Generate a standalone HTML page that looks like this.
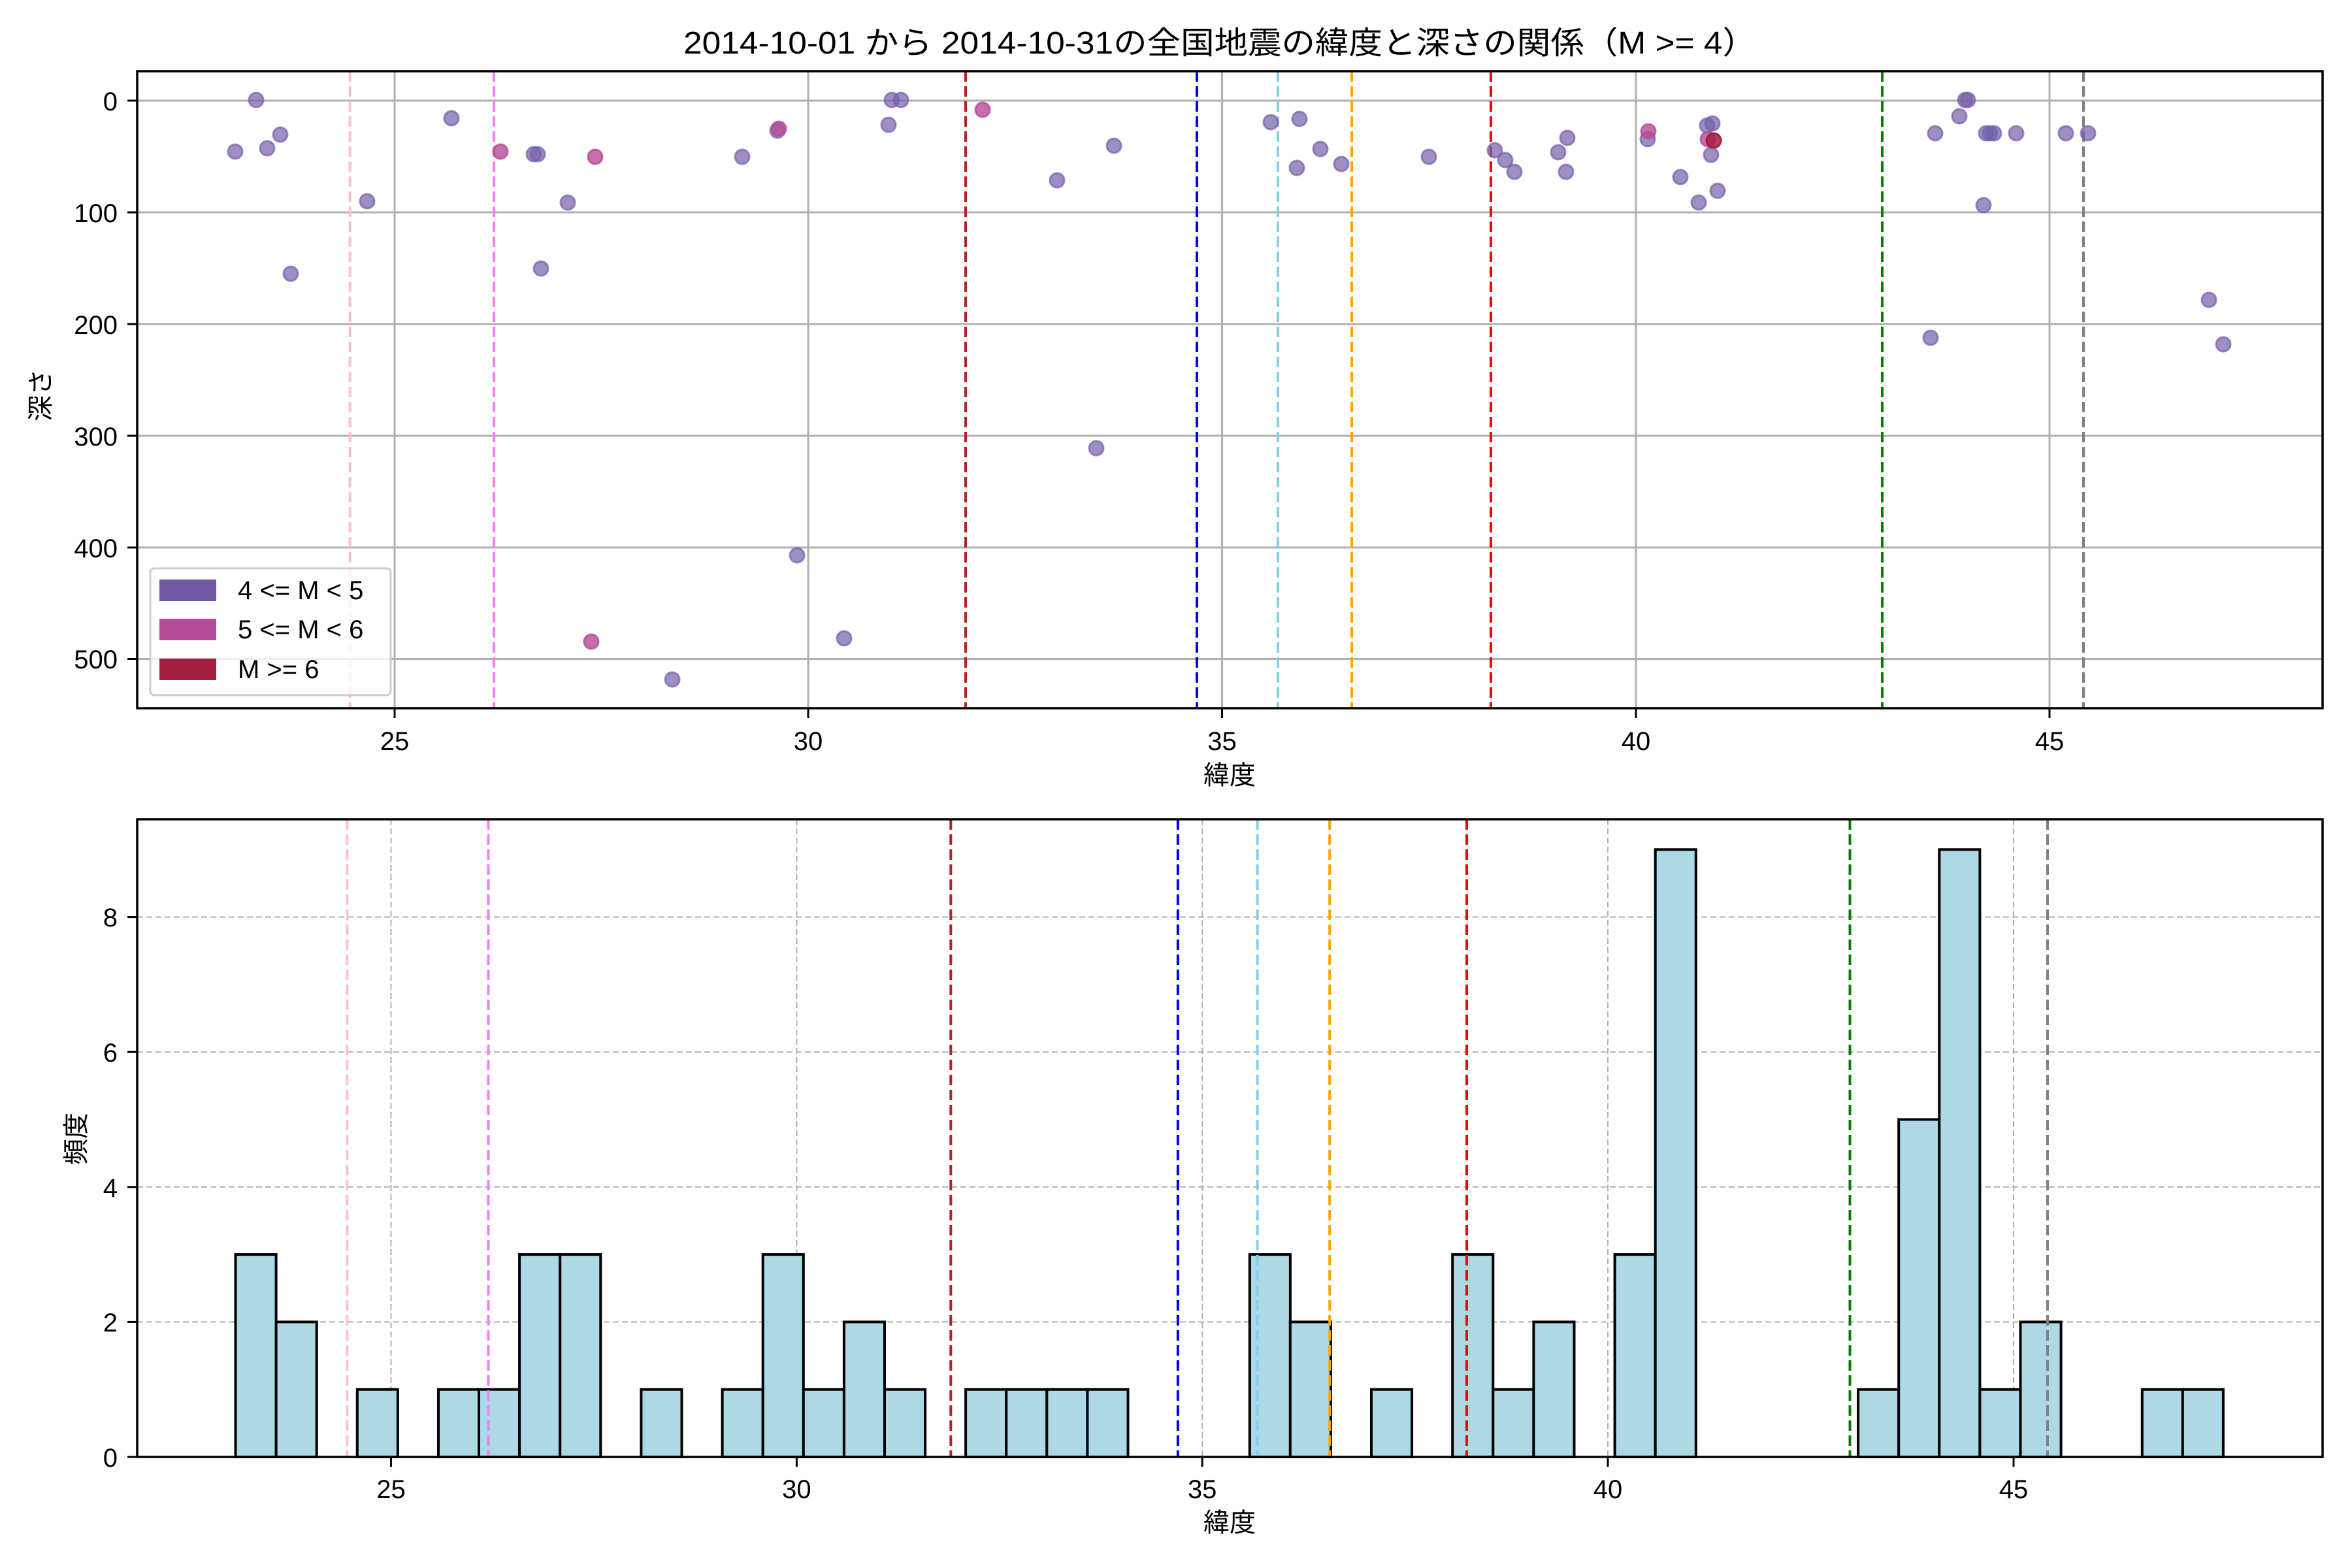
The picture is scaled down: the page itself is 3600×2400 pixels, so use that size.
<!DOCTYPE html>
<html><head><meta charset="utf-8"><style>
html,body{margin:0;padding:0;background:#fff;}
svg{display:block;}
text{font-family:"Liberation Sans","Noto Sans CJK JP",sans-serif;fill:#000;}
</style></head><body>
<svg width="3600" height="2400" viewBox="0 0 3600 2400" xmlns="http://www.w3.org/2000/svg">
<rect width="3600" height="2400" fill="#fff"/>
<text x="1867" y="82" font-size="48" text-anchor="middle" textLength="1642" lengthAdjust="spacingAndGlyphs">2014-10-01 から 2014-10-31の全国地震の緯度と深さの関係（M &gt;= 4）</text>

<!-- ===== TOP AXES ===== -->
<g stroke="#b0b0b0" stroke-width="3">
<line x1="604" y1="109" x2="604" y2="1084"/><line x1="1237" y1="109" x2="1237" y2="1084"/><line x1="1870.5" y1="109" x2="1870.5" y2="1084"/><line x1="2504" y1="109" x2="2504" y2="1084"/><line x1="3137" y1="109" x2="3137" y2="1084"/>
<line x1="210" y1="154" x2="3555" y2="154"/><line x1="210" y1="325" x2="3555" y2="325"/><line x1="210" y1="496" x2="3555" y2="496"/><line x1="210" y1="667" x2="3555" y2="667"/><line x1="210" y1="838" x2="3555" y2="838"/><line x1="210" y1="1008.5" x2="3555" y2="1008.5"/>
</g>
<g stroke-width="4" stroke-dasharray="16 7">
<line x1="535.6" y1="109" x2="535.6" y2="1084" stroke="#ffc0cb"/>
<line x1="756" y1="109" x2="756" y2="1084" stroke="#ee82ee"/>
<line x1="1478" y1="109" x2="1478" y2="1084" stroke="#b22222"/>
<line x1="1832" y1="109" x2="1832" y2="1084" stroke="#0000ff"/>
<line x1="1956" y1="109" x2="1956" y2="1084" stroke="#87ceeb"/>
<line x1="2069" y1="109" x2="2069" y2="1084" stroke="#ffa500"/>
<line x1="2282" y1="109" x2="2282" y2="1084" stroke="#ff0000"/>
<line x1="2881" y1="109" x2="2881" y2="1084" stroke="#008000"/>
<line x1="3189" y1="109" x2="3189" y2="1084" stroke="#808080"/>
</g>
<g fill="#7560aa" fill-opacity="0.7" stroke="#7560aa" stroke-opacity="0.7" stroke-width="3">
<circle cx="360" cy="232" r="11"/><circle cx="392" cy="153" r="11"/><circle cx="409" cy="227" r="11"/><circle cx="429" cy="206" r="11"/><circle cx="445" cy="419" r="11"/><circle cx="562" cy="308" r="11"/><circle cx="691" cy="181" r="11"/><circle cx="817" cy="236" r="11"/><circle cx="823" cy="236" r="11"/><circle cx="869" cy="310" r="11"/><circle cx="828" cy="411" r="11"/><circle cx="1029" cy="1040" r="11"/><circle cx="1136" cy="240" r="11"/><circle cx="1190" cy="200" r="11"/>
<circle cx="1365" cy="153" r="11"/><circle cx="1379" cy="153" r="11"/><circle cx="1360" cy="191" r="11"/><circle cx="1705" cy="223" r="11"/><circle cx="1618" cy="276" r="11"/><circle cx="1678" cy="686" r="11"/><circle cx="1220" cy="850" r="11"/><circle cx="1292" cy="977" r="11"/>
<circle cx="1945" cy="187" r="11"/><circle cx="1989" cy="182" r="11"/><circle cx="2021" cy="228" r="11"/><circle cx="1985" cy="257" r="11"/><circle cx="2053" cy="251" r="11"/><circle cx="2187" cy="240" r="11"/><circle cx="2288" cy="230" r="11"/><circle cx="2304" cy="245" r="11"/><circle cx="2318" cy="263" r="11"/><circle cx="2399" cy="211" r="11"/><circle cx="2385" cy="233" r="11"/><circle cx="2397" cy="263" r="11"/>
<circle cx="2522" cy="213" r="11"/><circle cx="2613" cy="192" r="11"/><circle cx="2621" cy="189" r="11"/><circle cx="2619" cy="237" r="11"/><circle cx="2572" cy="271" r="11"/><circle cx="2629" cy="292" r="11"/><circle cx="2600" cy="310" r="11"/>
<circle cx="3008" cy="153" r="11"/><circle cx="3012" cy="153" r="11"/><circle cx="2999" cy="178" r="11"/><circle cx="2962" cy="204" r="11"/><circle cx="3040" cy="204" r="11"/><circle cx="3046" cy="204" r="11"/><circle cx="3052" cy="204" r="11"/><circle cx="3086" cy="204" r="11"/><circle cx="3162" cy="204" r="11"/><circle cx="3196" cy="204" r="11"/><circle cx="3036" cy="314" r="11"/><circle cx="2955" cy="517" r="11"/><circle cx="3381" cy="459" r="11"/><circle cx="3403" cy="527" r="11"/>
</g>
<g fill="#b54b96" fill-opacity="0.8" stroke="#b54b96" stroke-opacity="0.8" stroke-width="3">
<circle cx="766" cy="232" r="11"/><circle cx="911" cy="240" r="11"/><circle cx="905" cy="982" r="11"/><circle cx="1192" cy="197" r="11"/><circle cx="1504" cy="168" r="11"/><circle cx="2523" cy="201" r="11"/><circle cx="2614" cy="213" r="11"/>
</g>
<circle cx="2623" cy="215" r="11" fill="#a31f42" fill-opacity="0.85" stroke="#a31f42" stroke-width="3"/>
<rect x="210" y="109" width="3345" height="975" fill="none" stroke="#000" stroke-width="3.5"/>
<g stroke="#000" stroke-width="3">
<line x1="604" y1="1084" x2="604" y2="1099"/><line x1="1237" y1="1084" x2="1237" y2="1099"/><line x1="1870.5" y1="1084" x2="1870.5" y2="1099"/><line x1="2504" y1="1084" x2="2504" y2="1099"/><line x1="3137" y1="1084" x2="3137" y2="1099"/>
<line x1="195" y1="154" x2="210" y2="154"/><line x1="195" y1="325" x2="210" y2="325"/><line x1="195" y1="496" x2="210" y2="496"/><line x1="195" y1="667" x2="210" y2="667"/><line x1="195" y1="838" x2="210" y2="838"/><line x1="195" y1="1008.5" x2="210" y2="1008.5"/>
</g>
<g font-size="40" text-anchor="middle">
<text x="604" y="1148">25</text><text x="1237" y="1148">30</text><text x="1870.5" y="1148">35</text><text x="2504" y="1148">40</text><text x="3137" y="1148">45</text>
</g>
<g font-size="40" text-anchor="end">
<text x="180" y="169">0</text><text x="180" y="340">100</text><text x="180" y="511">200</text><text x="180" y="682">300</text><text x="180" y="853">400</text><text x="180" y="1023">500</text>
</g>
<text x="1882" y="1200" font-size="40" text-anchor="middle">緯度</text>
<text transform="translate(76,605) rotate(-90)" font-size="40" text-anchor="middle">深さ</text>
<!-- legend -->
<rect x="230" y="870" width="368" height="194" rx="6" fill="#fff" fill-opacity="0.8" stroke="#cccccc" stroke-width="3"/>
<rect x="244" y="887" width="87" height="33" fill="#6f58a3"/>
<rect x="244" y="947" width="87" height="33" fill="#b54b96"/>
<rect x="244" y="1008" width="87" height="33" fill="#a31f42"/>
<g font-size="40"><text x="364" y="917">4 &lt;= M &lt; 5</text><text x="364" y="977">5 &lt;= M &lt; 6</text><text x="364" y="1038">M &gt;= 6</text></g>

<!-- ===== BOTTOM AXES ===== -->
<g stroke="#b0b0b0" stroke-width="2" stroke-dasharray="9 5">
<line x1="598.5" y1="1254" x2="598.5" y2="2230"/><line x1="1219.4" y1="1254" x2="1219.4" y2="2230"/><line x1="1840.2" y1="1254" x2="1840.2" y2="2230"/><line x1="2461" y1="1254" x2="2461" y2="2230"/><line x1="3082" y1="1254" x2="3082" y2="2230"/>
<line x1="210" y1="2023.4" x2="3555" y2="2023.4"/><line x1="210" y1="1816.8" x2="3555" y2="1816.8"/><line x1="210" y1="1610.2" x2="3555" y2="1610.2"/><line x1="210" y1="1403.6" x2="3555" y2="1403.6"/>
</g>
<g fill="#add8e6" stroke="#000" stroke-width="4">
<rect x="360.5" y="1920.1" width="62.1" height="309.9"/>
<rect x="422.6" y="2023.4" width="62.1" height="206.6"/>
<rect x="546.8" y="2126.7" width="62.1" height="103.3"/>
<rect x="671.0" y="2126.7" width="62.1" height="103.3"/>
<rect x="733.0" y="2126.7" width="62.1" height="103.3"/>
<rect x="795.1" y="1920.1" width="62.1" height="309.9"/>
<rect x="857.2" y="1920.1" width="62.1" height="309.9"/>
<rect x="981.4" y="2126.7" width="62.1" height="103.3"/>
<rect x="1105.6" y="2126.7" width="62.1" height="103.3"/>
<rect x="1167.7" y="1920.1" width="62.1" height="309.9"/>
<rect x="1229.8" y="2126.7" width="62.1" height="103.3"/>
<rect x="1291.9" y="2023.4" width="62.1" height="206.6"/>
<rect x="1354.0" y="2126.7" width="62.1" height="103.3"/>
<rect x="1478.1" y="2126.7" width="62.1" height="103.3"/>
<rect x="1540.2" y="2126.7" width="62.1" height="103.3"/>
<rect x="1602.3" y="2126.7" width="62.1" height="103.3"/>
<rect x="1664.4" y="2126.7" width="62.1" height="103.3"/>
<rect x="1912.8" y="1920.1" width="62.1" height="309.9"/>
<rect x="1974.8" y="2023.4" width="62.1" height="206.6"/>
<rect x="2099.0" y="2126.7" width="62.1" height="103.3"/>
<rect x="2223.2" y="1920.1" width="62.1" height="309.9"/>
<rect x="2285.3" y="2126.7" width="62.1" height="103.3"/>
<rect x="2347.4" y="2023.4" width="62.1" height="206.6"/>
<rect x="2471.6" y="1920.1" width="62.1" height="309.9"/>
<rect x="2533.7" y="1300.3" width="62.1" height="929.7"/>
<rect x="2844.1" y="2126.7" width="62.1" height="103.3"/>
<rect x="2906.2" y="1713.5" width="62.1" height="516.5"/>
<rect x="2968.3" y="1300.3" width="62.1" height="929.7"/>
<rect x="3030.4" y="2126.7" width="62.1" height="103.3"/>
<rect x="3092.5" y="2023.4" width="62.1" height="206.6"/>
<rect x="3278.8" y="2126.7" width="62.1" height="103.3"/>
<rect x="3340.8" y="2126.7" width="62.1" height="103.3"/>
</g>
<g stroke-width="4" stroke-dasharray="16 7">
<line x1="531.4" y1="1254" x2="531.4" y2="2230" stroke="#ffc0cb"/>
<line x1="747.5" y1="1254" x2="747.5" y2="2230" stroke="#ee82ee"/>
<line x1="1455.3" y1="1254" x2="1455.3" y2="2230" stroke="#b22222"/>
<line x1="1802.9" y1="1254" x2="1802.9" y2="2230" stroke="#0000ff"/>
<line x1="1924.6" y1="1254" x2="1924.6" y2="2230" stroke="#87ceeb"/>
<line x1="2035.2" y1="1254" x2="2035.2" y2="2230" stroke="#ffa500"/>
<line x1="2245" y1="1254" x2="2245" y2="2230" stroke="#ff0000"/>
<line x1="2831.5" y1="1254" x2="2831.5" y2="2230" stroke="#008000"/>
<line x1="3134" y1="1254" x2="3134" y2="2230" stroke="#808080"/>
</g>
<rect x="210" y="1254" width="3345" height="976" fill="none" stroke="#000" stroke-width="3.5"/>
<g stroke="#000" stroke-width="3">
<line x1="598.5" y1="2230" x2="598.5" y2="2245"/><line x1="1219.4" y1="2230" x2="1219.4" y2="2245"/><line x1="1840.2" y1="2230" x2="1840.2" y2="2245"/><line x1="2461" y1="2230" x2="2461" y2="2245"/><line x1="3082" y1="2230" x2="3082" y2="2245"/>
<line x1="195" y1="2230" x2="210" y2="2230"/><line x1="195" y1="2023.4" x2="210" y2="2023.4"/><line x1="195" y1="1816.8" x2="210" y2="1816.8"/><line x1="195" y1="1610.2" x2="210" y2="1610.2"/><line x1="195" y1="1403.6" x2="210" y2="1403.6"/>
</g>
<g font-size="40" text-anchor="middle">
<text x="598.5" y="2293">25</text><text x="1219.4" y="2293">30</text><text x="1840.2" y="2293">35</text><text x="2461" y="2293">40</text><text x="3082" y="2293">45</text>
</g>
<g font-size="40" text-anchor="end">
<text x="180" y="2245">0</text><text x="180" y="2038">2</text><text x="180" y="1832">4</text><text x="180" y="1625">6</text><text x="180" y="1418">8</text>
</g>
<text x="1882" y="2344" font-size="40" text-anchor="middle">緯度</text>
<text transform="translate(130,1743) rotate(-90)" font-size="40" text-anchor="middle">頻度</text>
</svg>
</body></html>
